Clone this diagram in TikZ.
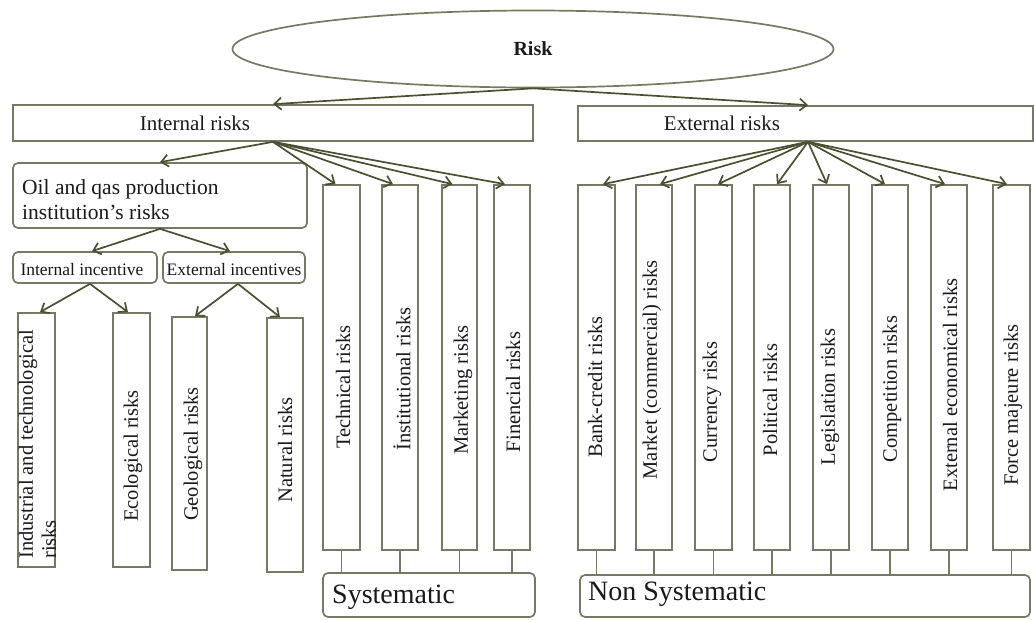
\documentclass[tikz,border=0pt]{standalone}
\usepackage{fontspec}
\setmainfont{Liberation Serif}
\usetikzlibrary{arrows.meta,shapes.geometric}
\definecolor{boxc}{RGB}{120,120,100}
\definecolor{arrc}{RGB}{75,80,50}
\definecolor{txtc}{RGB}{25,25,30}
\begin{document}
\begin{tikzpicture}[x=1pt,y=-1pt,
  box/.style={draw=boxc, line width=1.7pt, fill=white, inner sep=0pt},
  rbox/.style={box, rounded corners=5pt},
  vtext/.style={rotate=90, font=\fontsize{20.5}{23}\selectfont, text=txtc, inner sep=0pt},
  htext/.style={font=\fontsize{21}{24}\selectfont, text=txtc, inner sep=0pt},
  smtext/.style={font=\fontsize{17.5}{20}\selectfont, text=txtc, inner sep=0pt},
  bigtext/.style={font=\fontsize{28}{30}\selectfont, text=txtc, inner sep=0pt, anchor=west},
  arr/.style={draw=arrc, line width=1.7pt, -{Straight Barb[length=7pt,width=12pt]}},
  link/.style={draw=boxc, line width=1.7pt}]
\useasboundingbox (0,0) rectangle (1034,619);
\fill[white] (0,0) rectangle (1034,619);

% top ellipse
\node[draw=boxc, ellipse, line width=1.7pt, minimum width=601pt, minimum height=77pt,
      font=\fontsize{20}{22}\selectfont\bfseries, text=txtc] (risk) at (533,49) {Risk};

% level 1
\node[box, minimum width=520pt, minimum height=36pt] (intr) at (273,123) {};
\node[htext] (intrt) at (195,123) {Internal risks};
\node[box, minimum width=455pt, minimum height=35pt] (extr) at (805.5,123.5) {};
\node[htext] (extrt) at (722,123) {External risks};

\draw[arr] (risk.south) -- (intr.north);
\draw[arr] (risk.south) -- ([xshift=2.5pt]extr.north);

% oil box
\node[rbox, minimum width=294pt, minimum height=65pt] (oil) at (160,195.5) {};
\node[font=\fontsize{21.5}{25}\selectfont, text=txtc, inner sep=0pt, align=left, anchor=west] (oilt) at (22,200) {Oil and qas production\\institution's risks};

% incentives
\node[rbox, minimum width=144pt, minimum height=31pt] (ii) at (85,267.5) {};
\node[smtext] (iit) at (82,270) {Internal incentive};
\node[rbox, minimum width=142pt, minimum height=31pt] (ei) at (234,267.5) {};
\node[smtext] (eit) at (234,270) {External incentives};

% bottom-left boxes
\node[box, minimum width=37pt, minimum height=254pt] (ind) at (36.5,440) {};
\node[vtext, align=left, anchor=north west] (indt) at (18.5,559) {Industrial and technological\\risks};
\node[box, minimum width=37pt, minimum height=254pt] (eco) at (131.5,440) {};
\node[vtext] (ecot) at (133,456) {Ecological risks};
\node[box, minimum width=35pt, minimum height=253pt] (geo) at (189.5,443.5) {};
\node[vtext] (geot) at (193,454) {Geological risks};
\node[box, minimum width=36pt, minimum height=254pt] (nat) at (285,445) {};
\node[vtext] (natt) at (285,450) {Natural risks};

% internal tall boxes
\node[box, minimum width=37pt, minimum height=365pt] (tech) at (341.5,367.5) {};
\node[vtext] (techt) at (343,387) {Technical risks};
\node[box, minimum width=36pt, minimum height=365pt] (inst) at (400,367.5) {};
\node[vtext] (instt) at (402,379) {İnstitutional risks};
\node[box, minimum width=35pt, minimum height=365pt] (mark) at (459.5,367.5) {};
\node[vtext] (markt) at (463,390) {Marketing risks};
\node[box, minimum width=36pt, minimum height=365pt] (fin) at (512,367.5) {};
\node[vtext] (fint) at (513,392) {Finencial risks};

% external tall boxes
\node[box, minimum width=37pt, minimum height=365pt] (e1) at (596.5,367.5) {};
\node[vtext] (e1t) at (595,387) {Bank-credit risks};
\node[box, minimum width=36pt, minimum height=365pt] (e2) at (654,367.5) {};
\node[vtext] (e2t) at (652,370) {Market (commercial) risks};
\node[box, minimum width=37pt, minimum height=365pt] (e3) at (713.5,367.5) {};
\node[vtext] (e3t) at (712,402) {Currency risks};
\node[box, minimum width=36pt, minimum height=365pt] (e4) at (772,367.5) {};
\node[vtext] (e4t) at (770,400) {Political risks};
\node[box, minimum width=36pt, minimum height=365pt] (e5) at (831,367.5) {};
\node[vtext] (e5t) at (830,397) {Legislation risks};
\node[box, minimum width=36pt, minimum height=365pt] (e6) at (890,367.5) {};
\node[vtext] (e6t) at (892,389) {Competition risks};
\node[box, minimum width=36pt, minimum height=365pt] (e7) at (949,367.5) {};
\node[vtext] (e7t) at (950,385) {External economical risks};
\node[box, minimum width=37pt, minimum height=365pt] (e8) at (1011.5,367.5) {};
\node[vtext] (e8t) at (1013,405) {Force majeure risks};

% bottom groups
\node[rbox, minimum width=212pt, minimum height=44pt] (sys) at (429,595) {};
\node[bigtext] (syst) at (332,597) {Systematic};
\node[rbox, minimum width=450pt, minimum height=42pt] (nsys) at (805,596) {};
\node[bigtext] (nsyst) at (588,594) {Non Systematic};

% arrows from internal risks
\draw[arr] (intr.south) -- (oil.north);
\draw[arr] (intr.south) -- ([xshift=-6pt]tech.north);
\draw[arr] (intr.south) -- ([xshift=-7pt]inst.north);
\draw[arr] (intr.south) -- ([xshift=-7pt]mark.north);
\draw[arr] (intr.south) -- ([xshift=-7pt]fin.north);

% arrows from external risks
\draw[arr] ([xshift=2.5pt]extr.south) -- ([xshift=6.5pt]e1.north);
\draw[arr] ([xshift=2.5pt]extr.south) -- ([xshift=6pt]e2.north);
\draw[arr] ([xshift=2.5pt]extr.south) -- ([xshift=4.5pt]e3.north);
\draw[arr] ([xshift=2.5pt]extr.south) -- ([xshift=5pt]e4.north);
\draw[arr] ([xshift=2.5pt]extr.south) -- ([xshift=-4pt]e5.north);
\draw[arr] ([xshift=2.5pt]extr.south) -- ([xshift=-5pt]e6.north);
\draw[arr] ([xshift=2.5pt]extr.south) -- ([xshift=-4pt]e7.north);
\draw[arr] ([xshift=2.5pt]extr.south) -- ([xshift=-4.5pt]e8.north);

% oil to incentives
\draw[arr] (oil.south) -- ([xshift=7pt]ii.north);
\draw[arr] (oil.south) -- ([xshift=-4pt]ei.north);

% incentives to risks
\draw[arr] ([xshift=5pt]ii.south) -- ([xshift=3.5pt]ind.north);
\draw[arr] ([xshift=5pt]ii.south) -- ([xshift=-3.5pt]eco.north);
\draw[arr] ([xshift=4pt]ei.south) -- ([xshift=5.5pt]geo.north);
\draw[arr] ([xshift=4pt]ei.south) -- ([xshift=-5pt]nat.north);

% links to systematic / non systematic
\foreach \n in {tech,inst,mark,fin}
  \draw[link] (\n.south) -- (\n.south |- sys.north);
\foreach \n in {e1,e2,e3,e4,e5,e6,e7,e8}
  \draw[link] (\n.south) -- (\n.south |- nsys.north);
\end{tikzpicture}
\end{document}
